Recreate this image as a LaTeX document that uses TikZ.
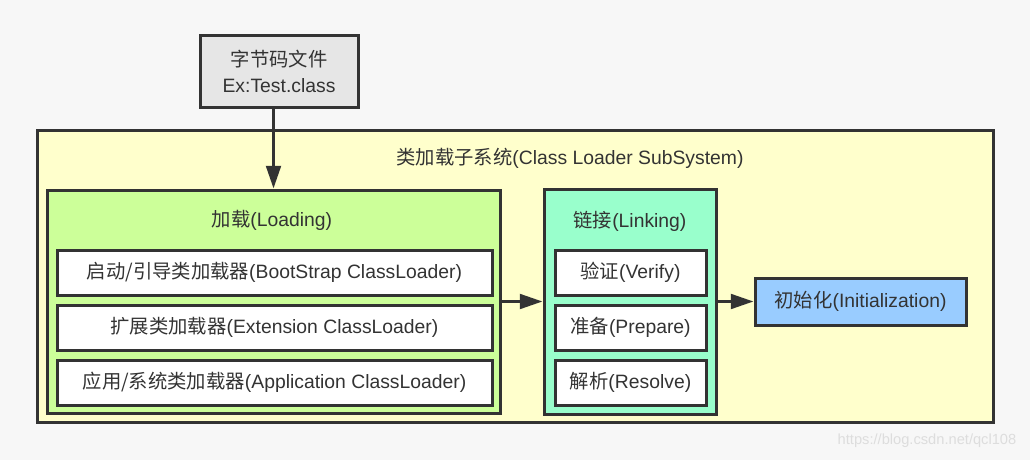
\documentclass[tikz,border=0pt]{standalone}
\usepackage{fontspec}
\setmainfont{Liberation Sans}
\newfontfamily\cjk{Noto Sans CJK SC}
\usetikzlibrary{arrows.meta,positioning}

\definecolor{borde}{HTML}{333333}
\definecolor{fondo}{HTML}{F7F7F7}
\definecolor{gris}{HTML}{E6E6E6}
\definecolor{amarillo}{HTML}{FFFFCC}
\definecolor{verde}{HTML}{CCFF99}
\definecolor{menta}{HTML}{99FFCC}
\definecolor{azul}{HTML}{99CCFF}
\definecolor{marca}{HTML}{DDDDDD}

\tikzset{
  caja/.style={draw=borde, line width=2.25pt, text=borde, inner sep=0pt,
    font=\fontsize{14.5}{19.5}\selectfont},
  etapa/.style={caja, fill=white, minimum height=33.75pt},
  titulo/.style={text=borde, font=\fontsize{14.5}{17}\selectfont},
  flecha/.style={draw=borde, line width=2.25pt,
    -{Triangle[length=17pt,width=11pt]}}
}

\begin{document}
\begin{tikzpicture}[x=0.75pt,y=-0.75pt]
    % Fondo y margenes del dibujo.
    \fill[fondo] (0,0) rectangle (1030,460);
    \useasboundingbox (0,0) rectangle (1030,460);

    % Archivo de entrada.
    \node[caja, fill=gris, minimum width=118.5pt, minimum height=53.25pt,
          align=center] (src) at (279,71.5)
        {{\cjk 字节码文件}\\Ex:Test.class};

    % Subsistema completo.
    \node[caja, fill=amarillo, minimum width=717pt, minimum height=219pt]
        (sys) at (515,276) {};
    \node[titulo] (sysT) at (570,158)
        {{\cjk 类加载子系统}(Class Loader SubSystem)};

    % Fase de carga con sus tres cargadores.
    \node[caja, fill=verde, minimum width=339.75pt, minimum height=167.25pt]
        (load) at (273.5,301.5) {};
    \node[titulo] (loadT) at (272,220) {{\cjk 加载}(Loading)};
    \node[etapa, minimum width=326.25pt] (boot) at (274.5,272.5)
        {{\cjk 启动/引导类加载器}(BootStrap ClassLoader)};
    \node[etapa, minimum width=326.25pt, below=5.25pt of boot] (ext)
        {{\cjk 扩展类加载器}(Extension ClassLoader)};
    \node[etapa, minimum width=326.25pt, below=5.25pt of ext] (app)
        {{\cjk 应用/系统类加载器}(Application ClassLoader)};

    % Fase de enlace.
    \node[caja, fill=menta, minimum width=129pt, minimum height=168.75pt]
        (link) at (630,301.5) {};
    \node[titulo] (linkT) at (630,221) {{\cjk 链接}(Linking)};
    \node[etapa, minimum width=113.25pt] (verify) at (630.5,272.5)
        {{\cjk 验证}(Verify)};
    \node[etapa, minimum width=113.25pt, below=5.25pt of verify] (prep)
        {{\cjk 准备}(Prepare)};
    \node[etapa, minimum width=113.25pt, below=5.25pt of prep] (resolve)
        {{\cjk 解析}(Resolve)};

    % Inicializacion.
    \node[caja, fill=azul, minimum width=158.25pt, minimum height=35.25pt]
        (init) at (860.5,301.5) {{\cjk 初始化}(Initialization)};

    % Flechas entre las fases.
    \draw[flecha] (load.north |- src.south) -- (load.north);
    \draw[flecha] (load.east) -- (link.west);
    \draw[flecha] (link.east) -- (init.west);

    % Marca de agua.
    \node[anchor=east, text=marca, font=\fontsize{11}{13}\selectfont]
        (wm) at (1021,441) {https://blog.csdn.net/qcl108};
\end{tikzpicture}
\end{document}
